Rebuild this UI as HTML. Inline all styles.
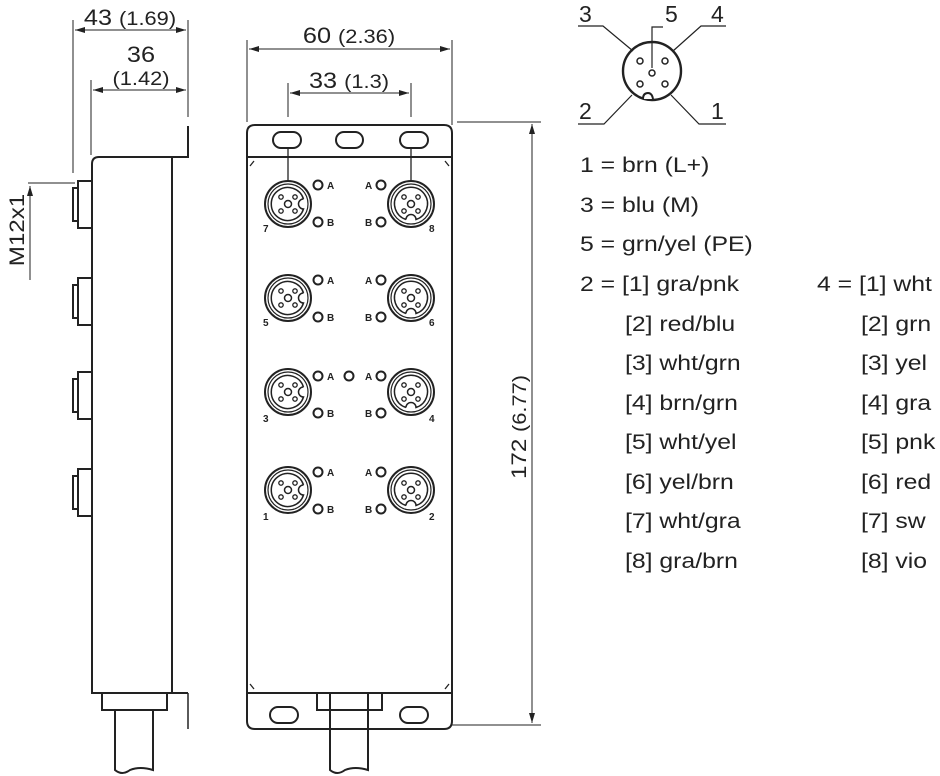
<!DOCTYPE html>
<html><head><meta charset="utf-8"><style>
html,body{margin:0;padding:0;background:#fff;}
svg{display:block;}
text{font-family:"Liberation Sans",sans-serif;fill:#222;}
.w{transform-box:fill-box;transform-origin:left center;transform:scaleX(1.18);}
.wc{transform-box:fill-box;transform-origin:center center;transform:scaleX(1.15);}
</style></head><body>
<svg width="940" height="776" viewBox="0 0 940 776" xmlns="http://www.w3.org/2000/svg">
<defs>
<marker id="ar" viewBox="0 0 10 6" refX="10" refY="3" markerWidth="10" markerHeight="6" orient="auto-start-reverse" markerUnits="userSpaceOnUse"><path d="M0,0 L10,3 L0,6 z" fill="#222"/></marker>
<g id="conL" fill="none" stroke="#222">
<circle r="23" stroke-width="2"/><circle r="20" stroke-width="1.2"/>
<path d="M15.5,-5 A16.5,16.5 0 1 0 15.5,5 A5,5 0 0 1 15.5,-5" stroke-width="1.5"/>
<circle r="3.5" stroke-width="1.5"/>
<circle cx="-7" cy="-7" r="2.2" stroke-width="1.3"/><circle cx="7" cy="-7" r="2.2" stroke-width="1.3"/>
<circle cx="-7" cy="7" r="2.2" stroke-width="1.3"/><circle cx="7" cy="7" r="2.2" stroke-width="1.3"/>
</g>
<g id="conR" fill="none" stroke="#222">
<circle r="23" stroke-width="2"/><circle r="20" stroke-width="1.2"/>
<path d="M-5,15.5 A16.5,16.5 0 1 1 5,15.5 A5,5 0 0 0 -5,15.5" stroke-width="1.5"/>
<circle r="3.5" stroke-width="1.5"/>
<circle cx="-7" cy="-7" r="2.2" stroke-width="1.3"/><circle cx="7" cy="-7" r="2.2" stroke-width="1.3"/>
<circle cx="-7" cy="7" r="2.2" stroke-width="1.3"/><circle cx="7" cy="7" r="2.2" stroke-width="1.3"/>
</g>
<g id="sc" fill="none" stroke="#222" stroke-width="2">
<rect x="0" y="0" width="14" height="47"/><rect x="-5" y="7" width="5" height="33"/>
</g>
</defs>

<!-- SIDE VIEW -->
<g fill="none" stroke="#222" stroke-width="2">
<path d="M92,693 L92,164 Q92,157 99,157 L188,157 L188,126"/>
<line x1="172" y1="157" x2="172" y2="693"/>
<line x1="91" y1="693" x2="188" y2="693"/>
<line x1="188" y1="693" x2="188" y2="729" stroke-width="1.5"/>
<rect x="102" y="693" width="65" height="17"/>
<path d="M115,710 L115,770 Q122,776 130,770 Q140,766 153,770 L153,710"/>
</g>
<use href="#sc" x="78" y="181"/>
<use href="#sc" x="78" y="278"/>
<use href="#sc" x="78" y="372"/>
<use href="#sc" x="78" y="469"/>
<g stroke="#222" stroke-width="1">
<line x1="73" y1="20" x2="73" y2="173"/>
<line x1="188" y1="20" x2="188" y2="117"/>
<line x1="75" y1="30" x2="186" y2="30" marker-start="url(#ar)" marker-end="url(#ar)"/>
<line x1="91" y1="80" x2="91" y2="155"/>
<line x1="93" y1="90" x2="186" y2="90" marker-start="url(#ar)" marker-end="url(#ar)"/>
<line x1="28" y1="183" x2="75" y2="183"/>
<line x1="30" y1="186" x2="30" y2="280" marker-start="url(#ar)"/>
</g>
<text class="wc" x="130" y="25" text-anchor="middle" font-size="22">43 <tspan font-size="19">(1.69)</tspan></text>
<text class="wc" x="141" y="62" text-anchor="middle" font-size="22">36</text>
<text class="wc" x="141" y="85" text-anchor="middle" font-size="19">(1.42)</text>
<text transform="translate(24,230) rotate(-90) scale(1.15,1)" text-anchor="middle" font-size="21">M12x1</text>

<!-- FRONT VIEW -->
<g fill="none" stroke="#222" stroke-width="2">
<path d="M247,720 L247,133 Q247,125 255,125 L444,125 Q452,125 452,133 L452,721 Q452,729 444,729 L255,729 Q247,729 247,721 Z"/>
<line x1="247" y1="157" x2="452" y2="157"/>
<line x1="247" y1="693" x2="452" y2="693"/>
<rect x="273" y="132" width="28" height="16" rx="8"/>
<rect x="336" y="132" width="27" height="16" rx="8"/>
<rect x="400" y="132" width="28" height="16" rx="8"/>
<rect x="270" y="707" width="28" height="16" rx="8"/>
<rect x="400" y="707" width="28" height="16" rx="8"/>
<rect x="317" y="693" width="65" height="17"/>
<path d="M330,693 L330,770 Q337,776 345,770 Q355,766 368,770 L368,693"/>
</g>
<g stroke="#222" stroke-width="1.3" fill="none">
<path d="M250,166 L254,161 M449,166 L445,161 M250,684 L254,689 M449,684 L445,689"/>
<line x1="288" y1="148" x2="288" y2="182"/>
<line x1="411" y1="148" x2="411" y2="182"/>
</g>
<g stroke="#222" stroke-width="1">
<line x1="247" y1="40" x2="247" y2="122"/>
<line x1="452" y1="40" x2="452" y2="125"/>
<line x1="249" y1="49" x2="450" y2="49" marker-start="url(#ar)" marker-end="url(#ar)"/>
<line x1="288" y1="83" x2="288" y2="117"/>
<line x1="411" y1="83" x2="411" y2="117"/>
<line x1="290" y1="93" x2="409" y2="93" marker-start="url(#ar)" marker-end="url(#ar)"/>
<line x1="457" y1="122" x2="541" y2="122"/>
<line x1="452" y1="725" x2="541" y2="725"/>
<line x1="532" y1="124" x2="532" y2="723" marker-start="url(#ar)" marker-end="url(#ar)"/>
</g>
<text class="wc" x="349" y="43" text-anchor="middle" font-size="22">60 <tspan font-size="19">(2.36)</tspan></text>
<text class="wc" x="349" y="88" text-anchor="middle" font-size="22">33 <tspan font-size="19">(1.3)</tspan></text>
<text transform="translate(526,427) rotate(-90) scale(1.15,1)" text-anchor="middle" font-size="21">172 <tspan font-size="19">(6.77)</tspan></text>

<use href="#conL" x="288" y="204"/><use href="#conR" x="411" y="204"/>
<use href="#conL" x="288" y="298"/><use href="#conR" x="411" y="298"/>
<use href="#conL" x="288" y="392"/><use href="#conR" x="411" y="392"/>
<use href="#conL" x="288" y="490"/><use href="#conR" x="411" y="490"/>
<g fill="none" stroke="#222" stroke-width="2">
<circle cx="318" cy="185" r="4.5"/><circle cx="318" cy="222" r="4.5"/><circle cx="381" cy="185" r="4.5"/><circle cx="381" cy="222" r="4.5"/>
<circle cx="318" cy="280" r="4.5"/><circle cx="318" cy="317" r="4.5"/><circle cx="381" cy="280" r="4.5"/><circle cx="381" cy="317" r="4.5"/>
<circle cx="318" cy="376" r="4.5"/><circle cx="318" cy="413" r="4.5"/><circle cx="381" cy="376" r="4.5"/><circle cx="381" cy="413" r="4.5"/>
<circle cx="349" cy="376" r="4.5"/>
<circle cx="318" cy="472" r="4.5"/><circle cx="318" cy="509" r="4.5"/><circle cx="381" cy="472" r="4.5"/><circle cx="381" cy="509" r="4.5"/>
</g>
<g font-size="10" font-weight="bold">
<text x="327" y="189">A</text><text x="327" y="226">B</text><text x="365" y="189">A</text><text x="365" y="226">B</text>
<text x="327" y="284">A</text><text x="327" y="321">B</text><text x="365" y="284">A</text><text x="365" y="321">B</text>
<text x="327" y="380">A</text><text x="327" y="417">B</text><text x="365" y="380">A</text><text x="365" y="417">B</text>
<text x="327" y="476">A</text><text x="327" y="513">B</text><text x="365" y="476">A</text><text x="365" y="513">B</text>
<text x="263" y="232">7</text><text x="429" y="232">8</text>
<text x="263" y="326">5</text><text x="429" y="326">6</text>
<text x="263" y="422">3</text><text x="429" y="422">4</text>
<text x="263" y="520">1</text><text x="429" y="520">2</text>
</g>

<!-- PINOUT -->
<g fill="none" stroke="#222">
<circle cx="652" cy="71" r="29" stroke-width="2.4"/>
<path d="M643,99 Q643,93 648,93 Q652,93 653,99" stroke-width="2" fill="#fff"/>
<circle cx="640" cy="61" r="3" stroke-width="1.5"/><circle cx="665" cy="61" r="3" stroke-width="1.5"/>
<circle cx="652" cy="73" r="3" stroke-width="1.5"/>
<circle cx="640" cy="84" r="3" stroke-width="1.5"/><circle cx="665" cy="84" r="3" stroke-width="1.5"/>
<path d="M578,26 L603,26 L633,51" stroke-width="1.2"/>
<path d="M652,68 L652,27 L663,27" stroke-width="1.2"/>
<path d="M726,26 L701,26 L673,51" stroke-width="1.2"/>
<path d="M578,124 L604,124 L632,95" stroke-width="1.2"/>
<path d="M726,124 L699,124 L671,95" stroke-width="1.2"/>
</g>
<g font-size="23">
<text x="579" y="22">3</text><text x="665" y="22">5</text><text x="711" y="22">4</text>
<text x="579" y="119">2</text><text x="711" y="119">1</text>
</g>

<!-- LEGEND -->
<g font-size="21">
<text class="w" x="580" y="172">1 = brn (L+)</text>
<text class="w" x="580" y="212">3 = blu (M)</text>
<text class="w" x="580" y="251">5 = grn/yel (PE)</text>
<text class="w" x="580" y="291">2 = [1] gra/pnk</text>
<text class="w" x="625" y="331">[2] red/blu</text>
<text class="w" x="625" y="370">[3] wht/grn</text>
<text class="w" x="625" y="410">[4] brn/grn</text>
<text class="w" x="625" y="449">[5] wht/yel</text>
<text class="w" x="625" y="489">[6] yel/brn</text>
<text class="w" x="625" y="528">[7] wht/gra</text>
<text class="w" x="625" y="568">[8] gra/brn</text>
<text class="w" x="817" y="291">4 = [1] wht</text>
<text class="w" x="861" y="331">[2] grn</text>
<text class="w" x="861" y="370">[3] yel</text>
<text class="w" x="861" y="410">[4] gra</text>
<text class="w" x="861" y="449">[5] pnk</text>
<text class="w" x="861" y="489">[6] red</text>
<text class="w" x="861" y="528">[7] sw</text>
<text class="w" x="861" y="568">[8] vio</text>
</g>
</svg>
</body></html>
